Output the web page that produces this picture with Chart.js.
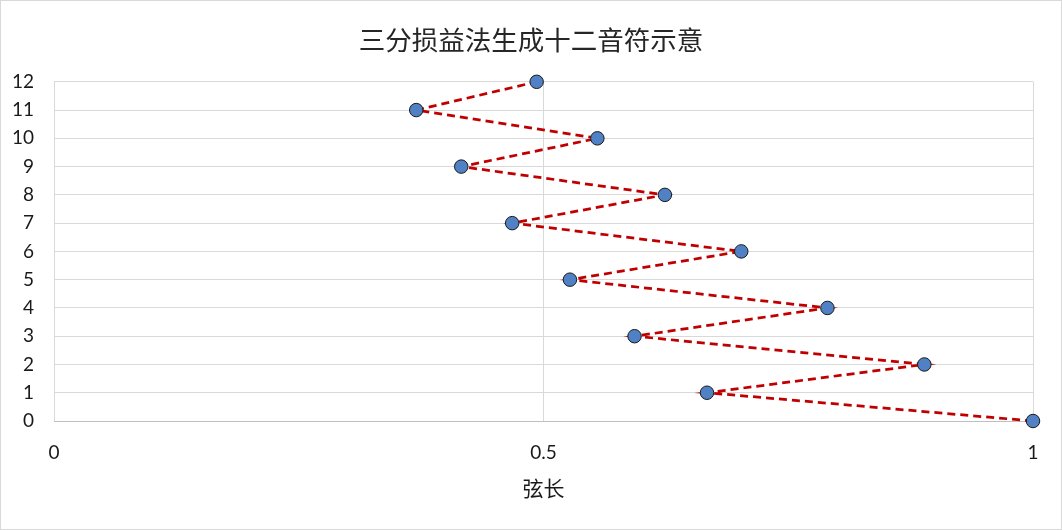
<!DOCTYPE html>
<html>
<head>
<meta charset="utf-8">
<script src="https://cdn.jsdelivr.net/npm/chart.js@4/dist/chart.umd.min.js"></script>
<style>
  html, body { margin: 0; padding: 0; background: #fff; }
  canvas { display: block; }
</style>
</head>
<body>
<canvas id="c" width="1062" height="530"></canvas>
<script>
// --- data ---
const noteIndex = [0, 1, 2, 3, 4, 5, 6, 7, 8, 9, 10, 11, 12];
const stringLength = [1, 0.667, 0.889, 0.593, 0.790, 0.527, 0.702, 0.468, 0.624, 0.416, 0.555, 0.370, 0.493];
const xTickValues = [0, 0.5, 1];
const titleText = '三分损益法生成十二音符示意';
const xTitleText = '弦长';

const points = stringLength.map((v, i) => ({ x: v, y: noteIndex[i] }));

const bgPlugin = {
  id: 'bg',
  beforeDraw(chart) {
    const ctx = chart.ctx;
    ctx.save();
    ctx.fillStyle = '#ffffff';
    ctx.fillRect(0, 0, chart.width, chart.height);
    ctx.strokeStyle = '#d9d9d9';
    ctx.lineWidth = 1;
    ctx.strokeRect(0.5, 0.5, chart.width - 1, chart.height - 1);
    ctx.restore();
  }
};

new Chart(document.getElementById('c'), {
  type: 'scatter',
  data: {
    datasets: [{
      data: points,
      showLine: true,
      clip: false,
      borderColor: '#c00000',
      borderWidth: 2.75,
      borderDash: [8, 5],
      pointRadius: 6.75,
      pointHoverRadius: 6.75,
      pointBackgroundColor: '#4f81c4',
      pointBorderColor: '#1a1a1a',
      pointBorderWidth: 1,
      tension: 0
    }]
  },
  options: {
    responsive: false,
    animation: false,
    devicePixelRatio: 1,
    layout: { padding: { left: 0, right: 0, top: 0, bottom: 0 } },
    plugins: {
      legend: { display: false },
      tooltip: { enabled: false },
      title: {
        display: true,
        text: titleText,
        color: '#262626',
        font: { family: '"Noto Sans CJK SC", sans-serif', size: 26.5, weight: 'normal', lineHeight: 1.2 },
        padding: { top: 24, bottom: 26 }
      }
    },
    scales: {
      x: {
        type: 'linear',
        min: 0,
        max: 1,
        afterBuildTicks(scale) { scale.ticks = xTickValues.map(v => ({ value: v })); },
        afterFit(scale) { scale.height = 109; },
        grid: { color: '#d9d9d9', lineWidth: 1, drawTicks: false },
        border: { color: '#bfbfbf', width: 1 },
        ticks: {
          color: '#1a1a1a',
          font: { family: 'Lato, "Open Sans", sans-serif', size: 19 },
          padding: 20,
          maxRotation: 0,
          callback: v => String(v)
        },
        title: {
          display: true,
          text: xTitleText,
          color: '#1a1a1a',
          font: { family: '"Noto Sans CJK SC", sans-serif', size: 21, lineHeight: 1.2 },
          padding: { top: 0, bottom: 29 }
        }
      },
      y: {
        type: 'linear',
        min: 0,
        max: 12,
        afterFit(scale) { scale.width = 54; },
        grid: { color: '#d9d9d9', lineWidth: 1, drawTicks: false },
        border: { display: false },
        ticks: {
          stepSize: 1,
          color: '#1a1a1a',
          font: { family: 'Lato, "Open Sans", sans-serif', size: 19 },
          padding: 20
        }
      },
      yRight: {
        type: 'linear',
        position: 'right',
        min: 0,
        max: 12,
        afterFit(scale) { scale.width = 29; },
        grid: { display: false, drawTicks: false },
        border: { display: false },
        ticks: { display: false }
      }
    }
  },
  plugins: [bgPlugin]
});
</script>
</body>
</html>
